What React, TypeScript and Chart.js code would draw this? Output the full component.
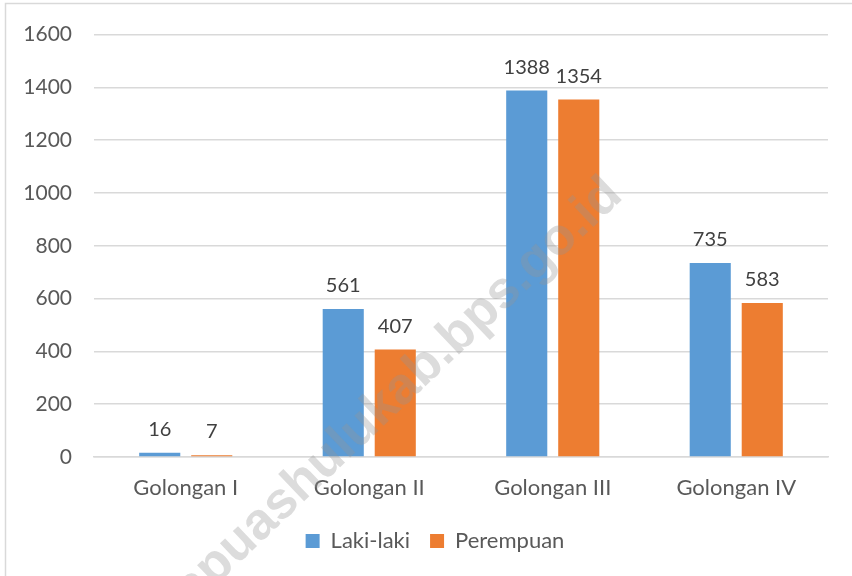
import React, { useEffect, useRef } from "react";
import { Chart, registerables } from "chart.js";

Chart.register(...registerables);

const categories = ["Golongan I", "Golongan II", "Golongan III", "Golongan IV"];
const lakiLaki = [16, 561, 1388, 735];
const perempuan = [7, 407, 1354, 583];
const seriesNames = ["Laki-laki", "Perempuan"];
const yTicks = [0, 200, 400, 600, 800, 1000, 1200, 1400, 1600];
const watermarkText = "kapuashulukab.bps.go.id";

const FONT = "Lato, 'Open Sans', sans-serif";
const FS = 22;

const framePlugin = {
  id: "frame",
  afterLayout(chart: any) {
    if (chart.legend) {
      chart.legend.left += 42;
    }
  },
  beforeDraw(chart: any) {
    const ctx = chart.ctx;
    ctx.save();
    ctx.fillStyle = "#ffffff";
    ctx.fillRect(0, 0, chart.width, chart.height);
    ctx.strokeStyle = "#d9d9d9";
    ctx.lineWidth = 1.5;
    ctx.strokeRect(5.5, 3.5, chart.width + 50, chart.height + 50);
    ctx.restore();
  },
};

const labelPlugin = {
  id: "valueLabels",
  afterDatasetsDraw(chart: any) {
    const ctx = chart.ctx;
    ctx.save();
    ctx.font = `20px ${FONT}`;
    ctx.fillStyle = "#404040";
    ctx.textAlign = "center";
    ctx.textBaseline = "alphabetic";
    chart.data.datasets.forEach((ds: any, di: number) => {
      const meta = chart.getDatasetMeta(di);
      meta.data.forEach((bar: any, i: number) => {
        ctx.fillText(String(ds.data[i]), bar.x, bar.y - 17);
      });
    });
    ctx.restore();
  },
};

const watermarkPlugin = {
  id: "watermark",
  afterDraw(chart: any) {
    const ctx = chart.ctx;
    ctx.save();
    ctx.translate(388, 402);
    ctx.rotate((-43.5 * Math.PI) / 180);
    ctx.font = `bold 52px 'Liberation Sans', Arial, sans-serif`;
    ctx.fillStyle = "rgba(150,150,150,0.33)";
    ctx.textAlign = "center";
    ctx.textBaseline = "middle";
    ctx.fillText(watermarkText, 0, 0);
    ctx.restore();
  },
};

export default function App() {
  const ref = useRef<HTMLCanvasElement>(null);
  useEffect(() => {
    if (!ref.current) return;
    const chart = new Chart(ref.current, {
      type: "bar",
      data: {
        labels: categories,
        datasets: [
          {
            label: seriesNames[0],
            data: lakiLaki,
            backgroundColor: "#5B9BD5",
            barPercentage: 0.79,
            categoryPercentage: 0.567,
          },
          {
            label: seriesNames[1],
            data: perempuan,
            backgroundColor: "#ED7D31",
            barPercentage: 0.79,
            categoryPercentage: 0.567,
          },
        ],
      },
      options: {
        responsive: false,
        animation: false,
        layout: { padding: { left: 0, right: 24, top: 33, bottom: 14 } },
        plugins: {
          tooltip: { enabled: false },
          legend: {
            position: "bottom",
            labels: {
              boxWidth: 14,
              boxHeight: 14,
              padding: 20,
              color: "#595959",
              font: { family: FONT, size: FS },
            },
          },
        },
        scales: {
          x: {
            grid: { display: false, drawTicks: false },
            border: { display: true, color: "#d9d9d9", width: 1.5 },
            ticks: {
              padding: 18,
              color: "#595959",
              font: { family: FONT, size: FS },
            },
            afterFit: (s: any) => {
              s.height = 53;
            },
          },
          y: {
            min: 0,
            max: 1600,
            afterBuildTicks: (s: any) => {
              s.ticks = yTicks.map((v) => ({ value: v }));
            },
            grid: { color: "#d9d9d9", lineWidth: 1.5, drawTicks: false },
            border: { display: false },
            ticks: {
              padding: 22,
              color: "#595959",
              font: { family: FONT, size: 21 },
              callback: (v: any) => String(v),
            },
            afterFit: (s: any) => {
              s.width = 94;
            },
          },
        },
      },
      plugins: [framePlugin, labelPlugin, watermarkPlugin],
    });
    return () => chart.destroy();
  }, []);
  return (
    <div style={{ position: "fixed", left: 0, top: 0, width: 852, height: 576 }}>
      <canvas ref={ref} width={852} height={576} style={{ width: 852, height: 576 }} />
    </div>
  );
}
